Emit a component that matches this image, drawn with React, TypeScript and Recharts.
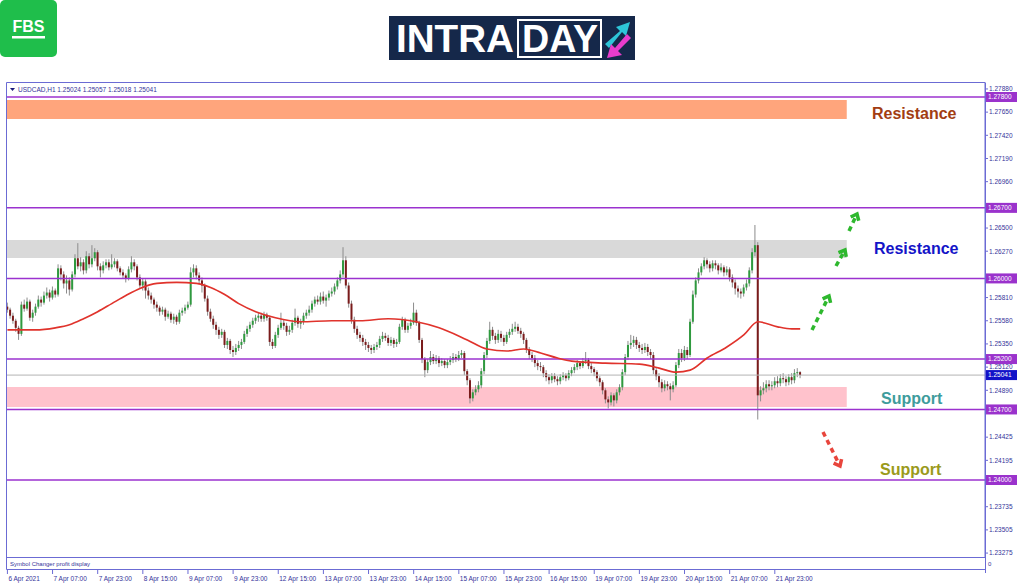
import React from "react";
import { ComposedChart, Bar, Line, XAxis, YAxis, ReferenceLine, ReferenceArea } from "recharts";

// ---------- DATA ----------
const FIRST_OPEN = 1.2572;
const closes = [
  1.2569,1.2563,1.2558,1.2551,1.2545,1.2574,1.2570,1.2577,1.2561,1.2566,
  1.2572,1.2579,1.2576,1.2583,1.2586,1.2581,1.2588,1.2584,1.2610,1.2604,
  1.2595,1.2598,1.2589,1.2604,1.2620,1.2612,1.2616,1.2608,1.2622,1.2614,
  1.2620,1.2626,1.2612,1.2608,1.2613,1.2616,1.2611,1.2614,1.2617,1.2610,
  1.2606,1.2603,1.2600,1.2609,1.2616,1.2612,1.2601,1.2593,1.2597,1.2588,
  1.2583,1.2579,1.2574,1.2571,1.2567,1.2569,1.2562,1.2565,1.2559,1.2562,
  1.2557,1.2566,1.2568,1.2571,1.2574,1.2606,1.2610,1.2603,1.2598,1.2593,
  1.2580,1.2567,1.2560,1.2554,1.2549,1.2544,1.2547,1.2534,1.2538,1.2529,
  1.2527,1.2531,1.2534,1.2537,1.2545,1.2550,1.2554,1.2558,1.2561,1.2563,
  1.2560,1.2564,1.2561,1.2537,1.2533,1.2544,1.2551,1.2556,1.2553,1.2547,
  1.2549,1.2556,1.2561,1.2555,1.2557,1.2563,1.2566,1.2569,1.2575,1.2579,
  1.2577,1.2582,1.2578,1.2581,1.2585,1.2587,1.2592,1.2598,1.2604,1.2618,
  1.2593,1.2575,1.2559,1.2550,1.2544,1.2541,1.2537,1.2534,1.2531,1.2529,
  1.2532,1.2534,1.2540,1.2543,1.2541,1.2536,1.2539,1.2535,1.2537,1.2552,
  1.2559,1.2549,1.2553,1.2556,1.2566,1.2556,1.2539,1.2520,1.2509,1.2517,
  1.2522,1.2518,1.2521,1.2516,1.2518,1.2514,1.2517,1.2519,1.2522,1.2520,
  1.2524,1.2526,1.2508,1.2499,1.2481,1.2487,1.2490,1.2494,1.2508,1.2524,
  1.2538,1.2549,1.2543,1.2539,1.2545,1.2541,1.2537,1.2544,1.2547,1.2550,
  1.2552,1.2548,1.2545,1.2539,1.2530,1.2524,1.2521,1.2516,1.2513,1.2512,
  1.2506,1.2502,1.2499,1.2503,1.2500,1.2498,1.2502,1.2504,1.2501,1.2506,
  1.2509,1.2512,1.2516,1.2513,1.2518,1.2519,1.2513,1.2510,1.2507,1.2501,
  1.2497,1.2489,1.2480,1.2477,1.2484,1.2479,1.2487,1.2492,1.2507,1.2522,
  1.2534,1.2536,1.2539,1.2534,1.2531,1.2529,1.2532,1.2527,1.2524,1.2509,
  1.2503,1.2497,1.2491,1.2495,1.2493,1.2490,1.2494,1.2514,1.2526,1.2521,
  1.2529,1.2524,1.2557,1.2584,1.2598,1.2606,1.2612,1.2618,1.2614,1.2610,
  1.2615,1.2613,1.2608,1.2611,1.2606,1.2609,1.2601,1.2596,1.2590,1.2587,
  1.2585,1.2591,1.2595,1.2608,1.2626,1.2633,1.2484,1.2489,1.2491,1.2495,
  1.2493,1.2494,1.2498,1.2496,1.2501,1.2500,1.2497,1.2502,1.2499,1.2506,
  1.2507,1.25041,
];
const highs = [
  1.2576,1.2571,1.2566,1.2560,1.2553,1.2577,1.2579,1.2581,1.2579,1.2569,
  1.2575,1.2583,1.2582,1.2587,1.2591,1.2589,1.2592,1.2590,1.2614,1.2613,
  1.2607,1.2603,1.2601,1.2607,1.2624,1.2635,1.2621,1.2619,1.2627,1.2625,
  1.2633,1.2630,1.2628,1.2615,1.2617,1.2619,1.2619,1.2624,1.2620,1.2619,
  1.2612,1.2609,1.2605,1.2612,1.2622,1.2619,1.2614,1.2604,1.2600,1.2599,
  1.2591,1.2586,1.2581,1.2577,1.2573,1.2572,1.2571,1.2568,1.2567,1.2565,
  1.2564,1.2569,1.2571,1.2574,1.2577,1.2611,1.2614,1.2613,1.2606,1.2601,
  1.2595,1.2583,1.2570,1.2563,1.2557,1.2552,1.2550,1.2549,1.2541,1.2540,
  1.2533,1.2535,1.2538,1.2540,1.2548,1.2553,1.2557,1.2561,1.2564,1.2566,
  1.2566,1.2567,1.2566,1.2563,1.2540,1.2547,1.2554,1.2566,1.2559,1.2556,
  1.2553,1.2559,1.2570,1.2563,1.2560,1.2566,1.2569,1.2573,1.2578,1.2582,
  1.2583,1.2586,1.2587,1.2584,1.2588,1.2591,1.2595,1.2601,1.2608,1.2631,
  1.2622,1.2596,1.2578,1.2562,1.2553,1.2547,1.2544,1.2540,1.2537,1.2534,
  1.2535,1.2537,1.2543,1.2547,1.2546,1.2544,1.2542,1.2541,1.2540,1.2555,
  1.2562,1.2561,1.2556,1.2560,1.2576,1.2569,1.2558,1.2541,1.2522,1.2520,
  1.2528,1.2525,1.2524,1.2523,1.2521,1.2520,1.2520,1.2523,1.2526,1.2525,
  1.2528,1.2529,1.2528,1.2510,1.2501,1.2490,1.2494,1.2498,1.2511,1.2527,
  1.2541,1.2557,1.2552,1.2546,1.2549,1.2548,1.2544,1.2547,1.2550,1.2555,
  1.2557,1.2555,1.2551,1.2547,1.2541,1.2532,1.2527,1.2524,1.2519,1.2517,
  1.2514,1.2509,1.2505,1.2506,1.2506,1.2503,1.2505,1.2507,1.2506,1.2509,
  1.2512,1.2515,1.2519,1.2518,1.2521,1.2527,1.2521,1.2516,1.2512,1.2509,
  1.2503,1.2499,1.2491,1.2483,1.2487,1.2486,1.2490,1.2495,1.2510,1.2525,
  1.2538,1.2544,1.2543,1.2542,1.2537,1.2535,1.2536,1.2535,1.2530,1.2527,
  1.2512,1.2506,1.2500,1.2499,1.2498,1.2496,1.2498,1.2517,1.2530,1.2530,
  1.2533,1.2532,1.2560,1.2588,1.2601,1.2610,1.2615,1.2621,1.2620,1.2617,
  1.2618,1.2618,1.2615,1.2615,1.2613,1.2612,1.2611,1.2604,1.2599,1.2593,
  1.2590,1.2594,1.2599,1.2611,1.2630,1.2653,1.2636,1.2493,1.2497,1.2499,
  1.2499,1.2498,1.2502,1.2503,1.2505,1.2506,1.2503,1.2505,1.2506,1.2510,
  1.2511,1.2508,
];
const lows = [
  1.2566,1.2560,1.2555,1.2547,1.2539,1.2543,1.2567,1.2568,1.2558,1.2557,
  1.2563,1.2570,1.2572,1.2574,1.2580,1.2577,1.2579,1.2581,1.2582,1.2598,
  1.2590,1.2585,1.2583,1.2587,1.2601,1.2609,1.2607,1.2604,1.2605,1.2610,
  1.2611,1.2617,1.2608,1.2601,1.2605,1.2610,1.2608,1.2609,1.2611,1.2607,
  1.2603,1.2600,1.2596,1.2598,1.2606,1.2608,1.2598,1.2590,1.2588,1.2580,
  1.2579,1.2575,1.2570,1.2567,1.2563,1.2564,1.2558,1.2560,1.2556,1.2555,
  1.2554,1.2555,1.2563,1.2565,1.2569,1.2572,1.2601,1.2599,1.2594,1.2586,
  1.2577,1.2563,1.2557,1.2550,1.2544,1.2540,1.2541,1.2531,1.2530,1.2525,
  1.2522,1.2524,1.2528,1.2530,1.2535,1.2542,1.2547,1.2551,1.2555,1.2557,
  1.2557,1.2557,1.2558,1.2533,1.2530,1.2531,1.2541,1.2549,1.2549,1.2543,
  1.2544,1.2546,1.2553,1.2551,1.2550,1.2554,1.2560,1.2563,1.2566,1.2572,
  1.2574,1.2574,1.2575,1.2572,1.2578,1.2582,1.2584,1.2589,1.2595,1.2601,
  1.2590,1.2571,1.2555,1.2546,1.2540,1.2537,1.2533,1.2529,1.2527,1.2525,
  1.2526,1.2529,1.2531,1.2537,1.2538,1.2533,1.2533,1.2531,1.2532,1.2535,
  1.2549,1.2546,1.2546,1.2550,1.2554,1.2553,1.2536,1.2516,1.2502,1.2506,
  1.2514,1.2515,1.2515,1.2512,1.2513,1.2511,1.2511,1.2514,1.2516,1.2517,
  1.2518,1.2521,1.2504,1.2494,1.2476,1.2478,1.2484,1.2487,1.2491,1.2505,
  1.2521,1.2535,1.2539,1.2535,1.2536,1.2537,1.2533,1.2535,1.2541,1.2544,
  1.2547,1.2545,1.2541,1.2535,1.2526,1.2520,1.2517,1.2512,1.2509,1.2508,
  1.2502,1.2498,1.2495,1.2496,1.2497,1.2494,1.2495,1.2499,1.2498,1.2499,
  1.2503,1.2506,1.2509,1.2510,1.2511,1.2515,1.2510,1.2506,1.2503,1.2498,
  1.2493,1.2485,1.2476,1.2471,1.2474,1.2473,1.2476,1.2484,1.2489,1.2504,
  1.2519,1.2530,1.2532,1.2530,1.2527,1.2525,1.2526,1.2523,1.2520,1.2505,
  1.2499,1.2492,1.2487,1.2488,1.2489,1.2479,1.2487,1.2492,1.2511,1.2517,
  1.2518,1.2520,1.2522,1.2555,1.2581,1.2595,1.2603,1.2609,1.2610,1.2606,
  1.2607,1.2609,1.2604,1.2606,1.2602,1.2603,1.2597,1.2591,1.2584,1.2581,
  1.2580,1.2582,1.2588,1.2592,1.2605,1.2622,1.2460,1.2478,1.2485,1.2487,
  1.2489,1.2489,1.2491,1.2492,1.2493,1.2496,1.2493,1.2494,1.2495,1.2496,
  1.2502,1.2501,
];
const maBars = [0, 10, 17, 22, 27, 32, 37, 42, 47, 53, 60, 67, 72, 77, 82, 88, 95, 104, 115, 125, 135, 145, 153, 163, 170, 177, 183, 189, 195, 200, 212, 224, 231, 237, 242, 248, 255, 261, 266, 273, 278, 281];
const maValues = [1.2549, 1.2549, 1.2551, 1.2554, 1.256, 1.2567, 1.2575, 1.2583, 1.259, 1.2595, 1.2596, 1.2595, 1.2591, 1.2584, 1.2575, 1.2567, 1.2561, 1.2557, 1.2558, 1.2558, 1.256, 1.2557, 1.2551, 1.2539, 1.253, 1.2528, 1.253, 1.2526, 1.2521, 1.2518, 1.2516, 1.2515, 1.2511, 1.2507, 1.2509, 1.2521, 1.2532, 1.2544, 1.2557, 1.2552, 1.255, 1.255];

const xLabels = ["6 Apr 2021", "7 Apr 07:00", "7 Apr 23:00", "8 Apr 15:00", "9 Apr 07:00", "9 Apr 23:00", "12 Apr 15:00", "13 Apr 07:00", "13 Apr 23:00", "14 Apr 15:00", "15 Apr 07:00", "15 Apr 23:00", "16 Apr 15:00", "19 Apr 07:00", "19 Apr 23:00", "20 Apr 15:00", "21 Apr 07:00", "21 Apr 23:00"];
const BARS_PER_LABEL = 16;
const yTicks = [1.2788, 1.2765, 1.2742, 1.2719, 1.2696, 1.265, 1.2627, 1.2581, 1.2558, 1.2535, 1.2512, 1.2489, 1.24425, 1.24195, 1.23735, 1.23505, 1.23275];
const levels = [1.278, 1.267, 1.26, 1.252, 1.247, 1.24];
const currentPrice = 1.25041;
const zones = [
  { from: 1.27582, to: 1.2777, color: "#ffa57c" },
  { from: 1.26203, to: 1.26381, color: "#d9d9d9" },
  { from: 1.24725, to: 1.24923, color: "#ffc2cc" },
];
const ZONE_END_BAR = 297;
const TOTAL_SLOTS = 347; // chart shift space on the right
const Y_MIN = 1.23236;
const Y_MAX = 1.27939;
const header = "USDCAD,H1  1.25024 1.25057 1.25018 1.25041";

// ---------- TABLE ----------
type Row = { i: number; o?: number; h?: number; l?: number; c?: number; ma?: number };
const rows: Row[] = Array.from({ length: TOTAL_SLOTS }, (_, i) => {
  if (i >= closes.length) return { i };
  return { i, o: i === 0 ? FIRST_OPEN : closes[i - 1], h: highs[i], l: lows[i], c: closes[i] };
});
maBars.forEach((b, k) => {
  rows[b].ma = maValues[k];
});
const xTickIdx = xLabels.map((_, k) => k * BARS_PER_LABEL);

const AXIS = "#6b6bd4";
const TXT = "#34349a";
const LEVEL = "#9b32cf";
const FONT = "'Liberation Sans', Arial, sans-serif";

const candleRange = (d: Row) => (d.h != null && d.l != null ? [d.l, d.h] : null);

const Candle = (props: any) => {
  const { x, y, width, height, payload } = props;
  if (!payload || payload.h == null || !isFinite(y) || !isFinite(height)) return null;
  const { o, h, l, c } = payload;
  const top = Math.min(y, y + height);
  const span = Math.abs(height);
  const k = span / (h - l || 1e-9);
  const py = (p: number) => top + (h - p) * k;
  const cx = x + width / 2;
  const up = c >= o;
  const bt = py(Math.max(o, c));
  const bb = py(Math.min(o, c));
  return (
    <g>
      <line x1={cx} x2={cx} y1={top} y2={top + span} stroke="#8c8c8c" strokeWidth={1} />
      <rect x={cx - 1} y={bt} width={2} height={Math.max(bb - bt, 1)} fill={up ? "#2f9a3f" : "#7a1b1b"} />
    </g>
  );
};

const XTick = (props: any) => {
  const { x, y, payload } = props;
  const label = xLabels[Math.round(payload.value / BARS_PER_LABEL)];
  if (!label) return null;
  return (
    <g>
      <line x1={x} x2={x} y1={y + 12} y2={y + 17} stroke={AXIS} strokeWidth={1} />
      <text x={x + 1} y={y + 24} fontSize={6.5} fill={TXT} fontFamily={FONT} textAnchor="start">
        {label}
      </text>
    </g>
  );
};

const YTick = (props: any) => {
  const { x, y, payload } = props;
  return (
    <text x={x} y={y} dy={2.3} fontSize={6.5} fill={TXT} fontFamily={FONT} textAnchor="start">
      {Number(payload.value).toFixed(5)}
    </text>
  );
};

const tag = (text: string, fill: string) => (p: any) => {
  const vb = p.viewBox || {};
  const xx = (vb.x ?? 0) + (vb.width ?? 0) + 1;
  const yy = vb.y ?? 0;
  return (
    <g>
      <rect x={xx} y={yy - 5} width={31} height={10} fill={fill} />
      <text x={xx + 2} y={yy + 2.4} fontSize={6.5} fill="#ffffff" fontFamily={FONT}>
        {text}
      </text>
    </g>
  );
};

const DashArrow = ({ x1, y1, x2, y2, color }: { x1: number; y1: number; x2: number; y2: number; color: string }) => {
  const ang = Math.atan2(y2 - y1, x2 - x1);
  const hl = 7;
  const a1 = ang + Math.PI * 0.78;
  const a2 = ang - Math.PI * 0.78;
  return (
    <g>
      <line x1={x1} y1={y1} x2={x2} y2={y2} stroke={color} strokeWidth={3.5} strokeDasharray="5 4" />
      <polyline
        points={`${x2 + hl * Math.cos(a1)},${y2 + hl * Math.sin(a1)} ${x2},${y2} ${x2 + hl * Math.cos(a2)},${y2 + hl * Math.sin(a2)}`}
        fill="none"
        stroke={color}
        strokeWidth={3.5}
      />
    </g>
  );
};

export default function App() {
  return (
    <div style={{ position: "absolute", left: 0, top: 0, width: 1024, height: 587, background: "#ffffff", fontFamily: FONT }}>
      <ComposedChart width={1024} height={587} data={rows} margin={{ top: 83, left: 6, right: 0, bottom: 0 }}>
        <XAxis dataKey="i" type="category" ticks={xTickIdx} interval={0} height={30} axisLine={false} tickLine={false} tickSize={0} tickMargin={0} tick={<XTick />} />
        <YAxis
          orientation="right"
          type="number"
          domain={[Y_MIN, Y_MAX]}
          allowDataOverflow
          ticks={yTicks}
          interval={0}
          width={39}
          tickSize={3}
          tickMargin={1}
          axisLine={{ stroke: AXIS }}
          tickLine={{ stroke: AXIS }}
          tick={<YTick />}
        />
        {zones.map((z, k) => (
          <ReferenceArea key={k} x1={0} x2={ZONE_END_BAR} y1={z.from} y2={z.to} fill={z.color} fillOpacity={1} stroke="none" />
        ))}
        <ReferenceLine y={currentPrice} stroke="#b4b4b4" strokeWidth={1} label={tag(currentPrice.toFixed(5), "#1212c8")} />
        {levels.map((v) => (
          <ReferenceLine key={v} y={v} stroke={LEVEL} strokeWidth={1.5} label={tag(v.toFixed(5), "#9a32cc")} />
        ))}
        <Bar dataKey={candleRange as any} shape={(p: any) => <Candle {...p} />} isAnimationActive={false} />
        <Line dataKey="ma" type="monotone" stroke="#e0332c" strokeWidth={1.7} dot={false} connectNulls isAnimationActive={false} />
      </ComposedChart>

      <svg width={1024} height={587} style={{ position: "absolute", left: 0, top: 0, pointerEvents: "none" }}>
        {/* FBS logo */}
        <rect x={0} y={0} width={57} height={57} rx={5} fill="#1fbe4b" />
        <text x={28.5} y={32} textAnchor="middle" fontSize={16} fontWeight="bold" fill="#fff" fontFamily={FONT}>FBS</text>
        <rect x={12} y={36} width={33} height={2.5} fill="#fff" />
        {/* INTRADAY logo */}
        <rect x={389} y={16} width={246} height={44} fill="#15284a" />
        <text x={396} y={52} fontSize={39} fontWeight="bold" fill="#fff" fontFamily={FONT} textLength={118} lengthAdjust="spacingAndGlyphs">INTRA</text>
        <rect x={518} y={20} width={83} height={37} fill="none" stroke="#fff" strokeWidth={2} />
        <text x={522} y={52} fontSize={39} fontWeight="bold" fill="#fff" fontFamily={FONT} textLength={76} lengthAdjust="spacingAndGlyphs">DAY</text>
        <polygon points="605,44 620,31 616,27 630,22 626,36 622,32 609,48" fill="#2ec5d8" />
        <polygon points="631,38 618,51 622,55 607,58 611,44 615,48 627,34" fill="#e83ccc" />
        {/* chart frame */}
        <line x1={6.5} y1={82.5} x2={985} y2={82.5} stroke={AXIS} />
        <line x1={6.5} y1={82.5} x2={6.5} y2={569.5} stroke={AXIS} />
        <line x1={6.5} y1={557.5} x2={985} y2={557.5} stroke={AXIS} />
        <line x1={6.5} y1={569.5} x2={985} y2={569.5} stroke={AXIS} />
        <line x1={985.5} y1={82.5} x2={985.5} y2={573} stroke={AXIS} />
        <text x={10} y={566} fontSize={6} fill={TXT} fontFamily={FONT}>Symbol Changer profit display</text>
        <text x={988} y={566} fontSize={6} fill={TXT} fontFamily={FONT}>0</text>
        {/* header */}
        <polygon points="10,88 15,88 12.5,91" fill="#1a1a7a" />
        <text x={18} y={91.5} fontSize={6.5} fill={TXT} fontFamily={FONT}>{header}</text>
        {/* annotations */}
        <text x={872} y={119} fontSize={16} fontWeight="bold" fill="#a23d12" fontFamily={FONT}>Resistance</text>
        <text x={874} y={254} fontSize={16} fontWeight="bold" fill="#1414c8" fontFamily={FONT}>Resistance</text>
        <text x={881} y={404} fontSize={16} fontWeight="bold" fill="#3e9c9c" fontFamily={FONT}>Support</text>
        <text x={880} y={475} fontSize={16} fontWeight="bold" fill="#9a9a1c" fontFamily={FONT}>Support</text>
        <DashArrow x1={812} y1={330} x2={829} y2={296} color="#2eb82e" />
        <DashArrow x1={836} y1={266} x2={845} y2={250} color="#2eb82e" />
        <DashArrow x1={849} y1={231} x2={857} y2={214} color="#2eb82e" />
        <DashArrow x1={823} y1={432} x2={840} y2={466} color="#e8453c" />
      </svg>
    </div>
  );
}
